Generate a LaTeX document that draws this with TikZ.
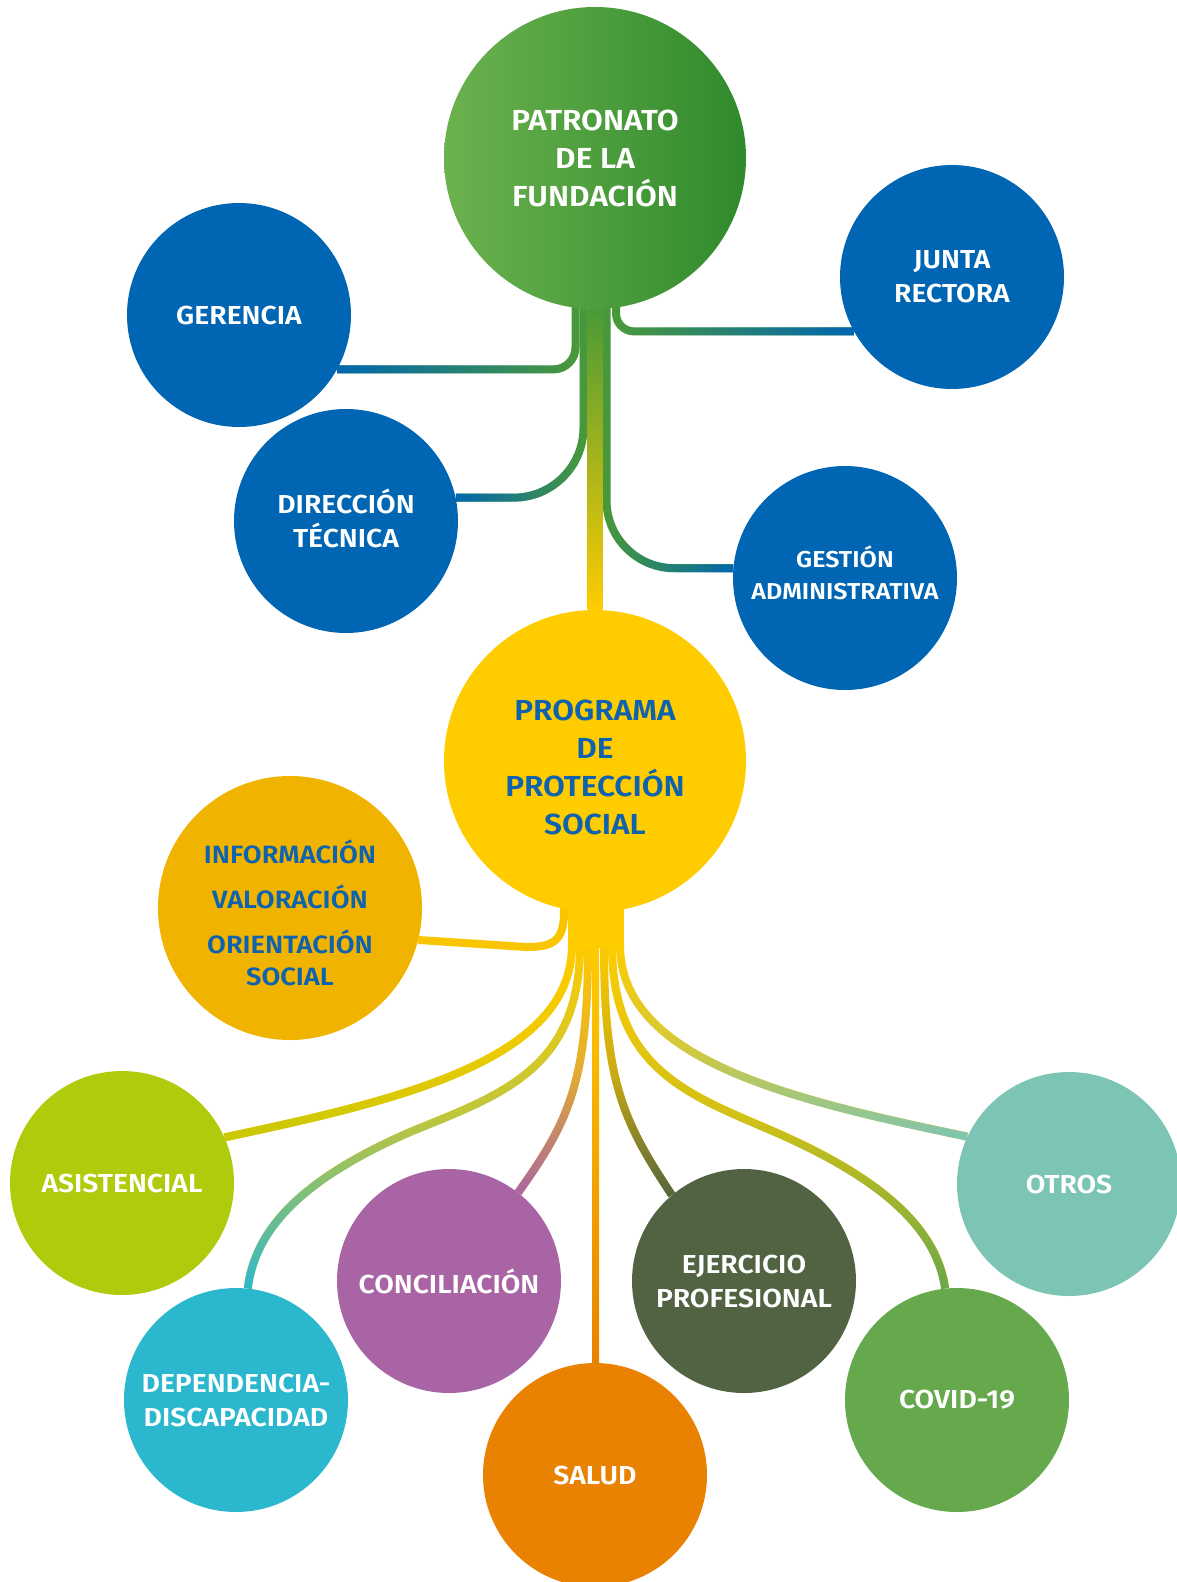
\documentclass[tikz,border=0pt]{standalone}
\usepackage{fontspec}
\setmainfont{Fira Sans}[FakeStretch=1.09, BoldFont={Fira Sans SemiBold}]
\usetikzlibrary{fadings,backgrounds}

\definecolor{blueC}{HTML}{0066B3}
\definecolor{patL}{HTML}{6CB24F}
\definecolor{patD}{HTML}{2F8A2C}
\definecolor{trunkG}{HTML}{4A9A38}
\definecolor{yellowC}{HTML}{FFCC00}
\definecolor{infoC}{HTML}{F0B400}
\definecolor{infoL}{HTML}{F9C500}
\definecolor{textB}{HTML}{0F62AD}
\definecolor{asisC}{HTML}{B0CB0B}
\definecolor{asisL}{HTML}{C9C805}
\definecolor{depC}{HTML}{2BB8CF}
\definecolor{concC}{HTML}{A864A4}
\definecolor{saludC}{HTML}{E88200}
\definecolor{ejerC}{HTML}{516342}
\definecolor{covidC}{HTML}{66A84C}
\definecolor{otrosC}{HTML}{7CC5B4}

\tikzfading[name=fadeleft, left color=transparent!0, right color=transparent!100]
\tikzfading[name=faderight, left color=transparent!100, right color=transparent!0]
\tikzfading[name=fadedown, top color=transparent!100, bottom color=transparent!0, middle color=transparent!70]

\tikzset{
  bubble/.style={circle, inner sep=0pt, minimum size=224pt, align=center, text=white,
    font=\bfseries\fontsize{26}{34}\selectfont},
  big/.style={minimum size=302pt, font=\bfseries\fontsize{29}{38}\selectfont},
  strand/.style={line width=8pt},
  topstrand/.style={strand, draw=trunkG, rounded corners=#1},
}

\begin{document}
\begin{tikzpicture}[x=1pt, y=-1pt]
    \useasboundingbox (0,0) rectangle (1176,1582);

    % governing bodies
    \node[bubble, big, left color=patL, right color=patD] (pat) at (595,158) {PATRONATO\\DE LA\\FUNDACIÓN};
    \node[bubble, fill=blueC] (ger) at (239,315) {GERENCIA};
    \node[bubble, fill=blueC] (jun) at (952,277) {JUNTA\\RECTORA};
    \node[bubble, fill=blueC] (dir) at (346,521) {DIRECCIÓN\\TÉCNICA\rule[-6pt]{0pt}{6pt}};
    \node[bubble, fill=blueC, font=\bfseries\fontsize{23}{32}\selectfont] (ges) at (845,578)
        {GESTIÓN\\ADMINISTRATIVA\rule[-10pt]{0pt}{10pt}};

    % programme
    \node[bubble, big, fill=yellowC, text=textB] (prog) at (595,761)
        {\rule{0pt}{34pt}PROGRAMA\\DE\\PROTECCIÓN\\SOCIAL};
    \node[bubble, minimum size=264pt, fill=infoC, text=textB, font=\bfseries\fontsize{25}{32}\selectfont] (info) at (290,908)
        {\rule{0pt}{34pt}INFORMACIÓN\\[13pt]VALORACIÓN\\[13pt]ORIENTACIÓN\\SOCIAL};

    % areas
    \node[bubble, fill=asisC] (asis) at (122,1183) {ASISTENCIAL};
    \node[bubble, fill=depC] (dep) at (236,1400) {DEPENDENCIA-\\DISCAPACIDAD};
    \node[bubble, fill=concC] (conc) at (449,1281) {CONCILIACIÓN};
    \node[bubble, fill=saludC] (salud) at (595,1475) {SALUD};
    \node[bubble, fill=ejerC] (ejer) at (744,1281) {EJERCICIO\\PROFESIONAL};
    \node[bubble, fill=covidC] (covid) at (957,1400) {COVID-19};
    \node[bubble, fill=otrosC] (otros) at (1069,1184) {OTROS};

    \begin{scope}[on background layer]
        % upper strands
        \coordinate (t1) at (575.5,300);
        \coordinate (t2) at (583.5,300);
        \coordinate (t4) at (606.5,300);
        \coordinate (t5) at (616,300);
        \draw[topstrand=22pt, postaction={draw=blueC, path fading=fadeleft}] (t1) |- (ger.-29);
        \draw[topstrand=70pt, postaction={draw=blueC, path fading=fadeleft}] (t2) |- (dir.12);
        \draw[topstrand=68pt, postaction={draw=blueC, path fading=faderight}] (t4) |- (ges.175);
        \draw[topstrand=18pt, postaction={draw=blueC, path fading=faderight}] (t5) |- (jun.-151);
        \shade[top color=trunkG, bottom color=yellowC] ([xshift=-7.5pt]pat.south) rectangle ([xshift=7.5pt]prog.north);

        % lower strands
        \coordinate (i0) at (564,895);
        \coordinate (b1) at (572,945);
        \coordinate (b2) at (580,945);
        \coordinate (b3) at (588,945);
        \coordinate (b4) at (596,945);
        \coordinate (b5) at (604,945);
        \coordinate (b6) at (612,945);
        \coordinate (b7) at (620,945);
        \draw[strand, draw=infoL] (i0) -- (564,912) .. controls (564,942) and (552,947) .. (526,947) -- (info.-14);
        \draw[strand, draw=yellowC, postaction={draw=asisL, path fading=fadedown}]
            (b1) .. controls (572,1060) and (400,1100) .. (asis.24);
        \draw[strand, draw=yellowC, postaction={draw=depC, path fading=fadedown}]
            (b2) .. controls (580,1070) and (500,1095) .. (410,1132) .. controls (300,1180) and (255,1230) .. (dep.84);
        \draw[strand, draw=yellowC, postaction={draw=concC, path fading=fadedown}]
            (b3) .. controls (588,1080) and (570,1120) .. (conc.52);
        \shade[top color=yellowC, bottom color=saludC] ([xshift=-4pt]b4) rectangle ([xshift=4pt]salud.north);
        \draw[strand, draw=yellowC, postaction={draw=ejerC, path fading=fadedown}]
            (b5) .. controls (604,1080) and (622,1120) .. (ejer.130);
        \draw[strand, draw=yellowC, postaction={draw=covidC, path fading=fadedown}]
            (b6) .. controls (612,1070) and (690,1095) .. (775,1132) .. controls (885,1180) and (937,1230) .. (covid.96);
        \draw[strand, draw=yellowC, postaction={draw=otrosC, path fading=fadedown}]
            (b7) .. controls (620,1060) and (792,1100) .. (otros.155);
        \fill[yellowC] (568,880) rectangle (624,948);
    \end{scope}

\end{tikzpicture}
\end{document}
